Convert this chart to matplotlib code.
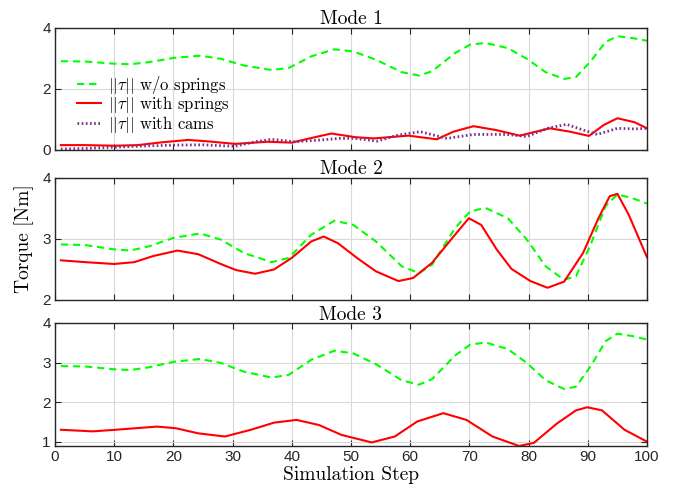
import numpy as np
import matplotlib
matplotlib.use('Agg')
import matplotlib.pyplot as plt

# 数据
x_free = [1, 5.1, 10, 12.7, 15.9, 20.1, 24.5, 28, 31.9, 36.6, 39.5, 43.3, 47.2, 50.4, 54.2,
          58.6, 61.5, 63.7, 67.6, 70.1, 72.7, 76.5, 79.7, 82.9, 86, 88, 90.5, 93, 95, 97.5, 100]
tau_free = [2.91, 2.90, 2.83, 2.81, 2.88, 3.02, 3.09, 2.99, 2.77, 2.62, 2.69, 3.07, 3.30, 3.23,
            2.96, 2.55, 2.44, 2.58, 3.18, 3.45, 3.51, 3.34, 2.99, 2.55, 2.33, 2.39, 2.91, 3.54,
            3.73, 3.67, 3.58]

x_m1_spr = [1, 5, 10, 14, 18, 22.5, 26, 30.4, 36, 40, 43, 46.7, 50.7, 53.8, 59.7, 64.5, 67.3,
            70.7, 74.6, 78.5, 80.8, 83.6, 87, 90.2, 92.7, 95, 97.9, 100]
tau_m1_spr = [0.16, 0.16, 0.14, 0.16, 0.25, 0.33, 0.28, 0.20, 0.27, 0.24, 0.38, 0.54, 0.42,
              0.38, 0.47, 0.35, 0.60, 0.78, 0.65, 0.47, 0.58, 0.71, 0.60, 0.46, 0.82, 1.04,
              0.91, 0.71]

x_m1_cam = [1, 5, 10, 15, 20.2, 25, 30.4, 33.8, 36.6, 40.5, 45, 48.1, 50.7, 54.4, 58, 61.7,
            66.2, 70.7, 76.3, 79.7, 83.2, 86.4, 89.3, 91.6, 95, 97.9, 100]
tau_m1_cam = [0.03, 0.05, 0.09, 0.13, 0.16, 0.17, 0.12, 0.27, 0.35, 0.27, 0.33, 0.38, 0.38,
              0.29, 0.49, 0.60, 0.38, 0.51, 0.51, 0.44, 0.71, 0.84, 0.65, 0.51, 0.71, 0.69, 0.71]

x_m2_spr = [1, 5.1, 10, 13.4, 16.6, 20.7, 24.2, 28, 30.6, 33.8, 37, 40, 43.3, 45.4, 47.8, 51,
            54.2, 58, 60.5, 63.7, 66.9, 69.9, 72, 74.6, 77.1, 80.3, 83.2, 86, 89.2, 91.8, 93.7,
            95, 96.9, 100]
tau_m2_spr = [2.65, 2.62, 2.59, 2.62, 2.72, 2.81, 2.75, 2.59, 2.49, 2.43, 2.50, 2.69, 2.96,
              3.04, 2.93, 2.69, 2.47, 2.31, 2.36, 2.61, 2.99, 3.34, 3.23, 2.83, 2.51, 2.31,
              2.20, 2.30, 2.77, 3.34, 3.70, 3.74, 3.40, 2.70]

x_m3_spr = [1, 6.4, 10.2, 17.2, 20.4, 24.2, 28.7, 33.1, 37, 40.8, 44.6, 48.4, 53.5, 57.4,
            61.2, 65.6, 69.5, 73.9, 78.4, 80.9, 84.8, 88, 89.9, 92.4, 96.2, 100]
tau_m3_spr = [1.30, 1.26, 1.30, 1.38, 1.34, 1.21, 1.13, 1.30, 1.48, 1.55, 1.42, 1.17, 0.98,
              1.13, 1.51, 1.72, 1.55, 1.13, 0.89, 0.97, 1.46, 1.79, 1.87, 1.79, 1.30, 1.00]

titles = ['Mode 1', 'Mode 2', 'Mode 3']
ylims = [(0, 4), (2, 4), (0.89, 4)]
yticks = [[0, 2, 4], [2, 3, 4], [1, 2, 3, 4]]

plt.rcParams['mathtext.fontset'] = 'cm'
plt.rcParams['font.family'] = ['Liberation Sans', 'DejaVu Sans']
plt.rcParams['axes.unicode_minus'] = False

green = (0, 1, 0)
red = (1, 0, 0)
purple = (0.49, 0.18, 0.56)
serif = 'cmr10'

fig = plt.figure(figsize=(6.88, 4.95), dpi=100)
pos = [[0.0799, 0.697, 0.8605, 0.2465],
       [0.0799, 0.394, 0.8605, 0.2465],
       [0.0799, 0.099, 0.8605, 0.2485]]
axes = [fig.add_axes(p) for p in pos]

for i, ax in enumerate(axes):
    ax.plot(x_free, tau_free, color=green, lw=1.5, ls=(0, (3.5, 2.3)),
            label=r'$||\tau||$ w/o springs')
    if i == 0:
        ax.plot(x_m1_spr, tau_m1_spr, color=red, lw=1.5, label=r'$||\tau||$ with springs')
        ax.plot(x_m1_cam, tau_m1_cam, color=purple, lw=2, ls=(0, (0.6, 0.9)),
                label=r'$||\tau||$ with cams')
    elif i == 1:
        ax.plot(x_m2_spr, tau_m2_spr, color=red, lw=1.5)
    else:
        ax.plot(x_m3_spr, tau_m3_spr, color=red, lw=1.5)

    ax.set_xlim(0, 100)
    ax.set_ylim(*ylims[i])
    ax.set_xticks(np.arange(0, 101, 10))
    ax.set_yticks(yticks[i])
    ax.grid(True, color=(0.85, 0.85, 0.85), lw=0.8)
    ax.set_axisbelow(True)
    ax.tick_params(direction='in', top=True, right=True, labelsize=11,
                   colors=(0.15, 0.15, 0.15), length=4, width=0.8, pad=3)
    for s in ax.spines.values():
        s.set_color((0.15, 0.15, 0.15))
        s.set_linewidth(1.0)
    ax.set_title(titles[i], family=serif, fontsize=14, pad=2)
    if i < 2:
        ax.set_xticklabels([])

leg = axes[0].legend(loc='center left', bbox_to_anchor=(0.037, 0.375), frameon=False,
                     prop={'family': serif, 'size': 12}, handlelength=1.45,
                     handletextpad=0.4, labelspacing=-0.1, borderaxespad=0, borderpad=0)

axes[1].set_ylabel('Torque [Nm]', family=serif, fontsize=14, labelpad=6)
axes[2].set_xlabel('Simulation Step', family=serif, fontsize=14, labelpad=1)

plt.savefig('out.png', dpi=100)
